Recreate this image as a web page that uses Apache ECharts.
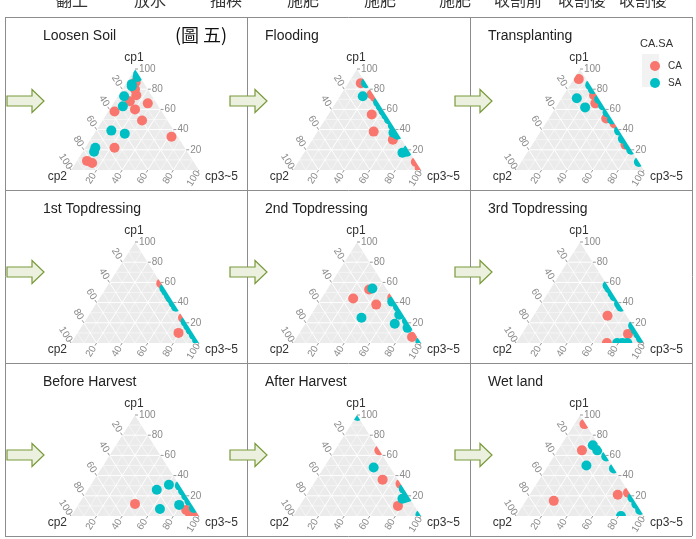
<!DOCTYPE html>
<html>
<head>
<meta charset="utf-8">
<script src="https://cdn.jsdelivr.net/npm/echarts@6/dist/echarts.min.js"></script>
<style>
html, body { margin: 0; padding: 0; background: #fff; }
#main { width: 696px; height: 539px; }
</style>
</head>
<body>
<div id="main"></div>
<script>
// stage names and header words
var stages = ['Loosen Soil', 'Flooding', 'Transplanting', '1st Topdressing', '2nd Topdressing',
    '3rd Topdressing', 'Before Harvest', 'After Harvest', 'Wet land'];
var headerWords = ['翻土', '放水', '插秧', '施肥', '施肥', '施肥', '收割前', '收割後', '收割後'];
var ticks = [20, 40, 60, 80, 100];
var gridSteps = [10, 20, 30, 40, 50, 60, 70, 80, 90];

// [cp1, cp2, cp3~5] compositions (%)
var looseCA = [[87, 6, 7], [80, 10, 10], [74, 12, 14], [68, 20, 12], [66, 7, 27], [58, 37, 5], [60, 20, 20],
    [49, 20, 31], [33, 5, 62], [22, 55, 23], [9, 83, 8], [7, 80, 13]];
var looseSA = [[95, 0, 5], [92, 2, 6], [85, 10, 5], [83, 11, 6], [73, 22, 5], [63, 28, 9], [39, 49, 12],
    [36, 40, 24], [22, 70, 8], [18, 73, 9]];
var floodCA = [[86, 4, 10], [75, 1, 24], [72, 0, 28], [59, 0, 41], [55, 11, 34], [38, 18, 44], [30, 7, 63],
    [8, 0, 92], [2, 0, 98]];
var floodSA = [[86, 0, 14], [73, 9, 18], [67, 0, 33], [63, 0, 37], [58, 0, 42], [54, 0, 46], [50, 0, 50],
    [44, 0, 56], [37, 3, 60], [35, 1, 64], [20, 0, 80], [17, 6, 77], [18, 2, 80]];
var transCA = [[90, 6, 4], [77, 0, 23], [74, 2, 24], [66, 5, 29], [51, 4, 45], [46, 0, 54], [25, 2, 73]];
var transSA = [[84, 0, 16], [80, 0, 20], [71, 17, 12], [62, 15, 23], [70, 0, 30], [64, 0, 36], [57, 0, 43],
    [50, 0, 50], [39, 0, 61], [31, 1, 68], [25, 0, 75], [20, 0, 80], [8, 0, 92]];
var top1CA = [[59, 0, 41], [45, 0, 55], [25, 0, 75], [13, 0, 87], [10, 11, 79]];
var top1SA = [[54, 0, 46], [51, 0, 49], [47, 0, 53], [44, 0, 56], [40, 0, 60], [36, 0, 64], [21, 0, 79],
    [17, 0, 83], [13, 0, 87], [8, 0, 92], [3, 0, 97]];
var top2CA = [[53, 14, 33], [44, 31, 25], [38, 16, 46], [45, 0, 55], [6, 4, 90]];
var top2SA = [[54, 11, 35], [41, 2, 57], [36, 0, 64], [30, 0, 70], [28, 3, 69], [25, 34, 41], [19, 11, 70],
    [22, 0, 78], [15, 3, 82], [1, 0, 99]];
var top3CA = [[27, 15, 58], [9, 8, 83], [0, 29, 71], [3, 0, 97]];
var top3SA = [[57, 0, 43], [54, 0, 46], [49, 0, 51], [46, 0, 54], [39, 0, 61], [36, 0, 64], [17, 0, 83],
    [13, 0, 87], [9, 0, 91], [5, 0, 95], [0, 21, 79], [0, 17, 83], [0, 13, 87]];
var beforeCA = [[12, 44, 44], [6, 7, 87], [4, 4, 92], [2, 6, 92], [1, 3, 96]];
var beforeSA = [[26, 20, 54], [31, 8, 61], [30, 0, 70], [25, 0, 75], [20, 0, 80], [15, 0, 85], [11, 10, 79],
    [7, 27, 66], [8, 0, 92]];
var afterCA = [[65, 0, 35], [36, 12, 52], [32, 0, 68], [21, 0, 79], [10, 13, 77]];
var afterSA = [[99, 0, 1], [48, 13, 39], [27, 0, 73], [22, 0, 78], [19, 0, 81], [17, 6, 77], [18, 3, 79],
    [1, 0, 99]];
var wetCA = [[91, 1, 8], [65, 16, 19], [15, 63, 22], [21, 10, 69], [23, 1, 76]];
var wetSA = [[70, 5, 25], [65, 4, 31], [50, 20, 30], [59, 0, 41], [47, 0, 53], [18, 0, 82], [12, 0, 88],
    [6, 0, 94], [0, 18, 82]];

var caData = [looseCA, floodCA, transCA, top1CA, top2CA, top3CA, beforeCA, afterCA, wetCA];
var saData = [looseSA, floodSA, transSA, top1SA, top2SA, top3SA, beforeSA, afterSA, wetSA];

var RED = '#F8766D', TEAL = '#00BFC4';
var sans = '"Liberation Sans", Arial, sans-serif';
var colX = [25, 247, 470], rowY = [17, 190, 363];

// ternary -> plane (x: 0..1 along base, y: 0..1 up to cp1 apex)
function tern(p) {
    var s = p[0] + p[1] + p[2];
    return [(p[2] + p[0] / 2) / s, p[0] / s];
}

function renderBack(params, api) {
    var kids = [];
    var A = api.coord([0.5, 1]), L = api.coord([0, 0]), R = api.coord([1, 0]);
    kids.push({ type: 'polygon', shape: { points: [L, R, A] }, style: { fill: '#EBEBEB' } });
    gridSteps.forEach(function (v) {
        var w = v % 20 === 0 ? 1 : 0.5;
        var segs = [
            [tern([v, 100 - v, 0]), tern([v, 0, 100 - v])],
            [tern([100 - v, v, 0]), tern([0, v, 100 - v])],
            [tern([100 - v, 0, v]), tern([0, 100 - v, v])]
        ];
        segs.forEach(function (s) {
            var p1 = api.coord(s[0]), p2 = api.coord(s[1]);
            kids.push({ type: 'line', shape: { x1: p1[0], y1: p1[1], x2: p2[0], y2: p2[1] },
                style: { stroke: '#fff', lineWidth: w } });
        });
    });
    return { type: 'group', children: kids };
}

// white bands outside the triangle so edge points look clipped
function renderMask(params, api) {
    var d = 0.075;
    var polys = [
        [[1, 0], [0.5, 1], [0.5 + d, 1], [1 + d, 0]],
        [[0, 0], [0.5, 1], [0.5 - d, 1], [-d, 0]],
        [[-d, 0], [1 + d, 0], [1 + d, -0.08], [-d, -0.08]],
        [[0.44, 1], [0.56, 1], [0.56, 1.08], [0.44, 1.08]]
    ];
    return {
        type: 'group',
        children: polys.map(function (pl) {
            return { type: 'polygon', shape: { points: pl.map(function (q) { return api.coord(q); }) },
                style: { fill: '#fff' } };
        })
    };
}

function renderLabels(params, api) {
    var kids = [];
    var A = api.coord([0.5, 1]), L = api.coord([0, 0]), R = api.coord([1, 0]);
    var ux = A[0] - R[0], uy = A[1] - R[1], n = Math.sqrt(ux * ux + uy * uy);
    ux /= n; uy /= n;                       // up-left direction
    var dx = L[0] - A[0], dy = L[1] - A[1], m = Math.sqrt(dx * dx + dy * dy);
    dx /= m; dy /= m;                       // down-left direction
    var ang = Math.atan2(-uy, -ux);
    var tickStyle = { stroke: '#9a9a9a', lineWidth: 1 };
    var txt = function (t, x, y, rot, align) {
        kids.push({ type: 'text', x: x, y: y, rotation: rot,
            style: { text: t, fill: '#8a8a8a', font: '10px ' + sans, align: align, verticalAlign: 'middle' } });
    };
    ticks.forEach(function (v) {
        var P = api.coord(tern([v, 0, 100 - v]));
        kids.push({ type: 'line', shape: { x1: P[0], y1: P[1], x2: P[0] + 3, y2: P[1] }, style: tickStyle });
        txt(String(v), P[0] + 4, P[1], 0, 'left');
        var Q = api.coord(tern([100 - v, v, 0]));
        kids.push({ type: 'line', shape: { x1: Q[0], y1: Q[1], x2: Q[0] + ux * 3, y2: Q[1] + uy * 3 }, style: tickStyle });
        txt(String(v), Q[0] + ux * 10, Q[1] + uy * 10, -ang, 'center');
        var B = api.coord(tern([0, 100 - v, v]));
        kids.push({ type: 'line', shape: { x1: B[0], y1: B[1], x2: B[0] + dx * 3, y2: B[1] + dy * 3 }, style: tickStyle });
        txt(String(v), B[0] + dx * 10, B[1] + dy * 10, ang, 'center');
    });
    var t = function (s, x, y, align) {
        kids.push({ type: 'text', x: x, y: y,
            style: { text: s, fill: '#333', font: '12px ' + sans, align: align, verticalAlign: 'middle' } });
    };
    t('cp1', A[0] - 1, A[1] - 11, 'center');
    t('cp2', L[0] - 4, L[1] + 7, 'right');
    t('cp3~5', R[0] + 6, R[1] + 7, 'left');
    return { type: 'group', children: kids };
}

var grids = [], xAxes = [], yAxes = [], series = [], graphics = [];

stages.forEach(function (name, i) {
    var r = Math.floor(i / 3), c = i % 3;
    var ox = colX[c], oy = rowY[r];
    grids.push({ left: ox + 46, top: oy + 52, width: 128, height: 101 });
    xAxes.push({ gridIndex: i, type: 'value', min: 0, max: 1, show: false });
    yAxes.push({ gridIndex: i, type: 'value', min: 0, max: 1, show: false });
    series.push({ type: 'custom', xAxisIndex: i, yAxisIndex: i, data: [[0, 0]], z: 1, silent: true,
        renderItem: renderBack });
    series.push({ type: 'scatter', name: 'CA', xAxisIndex: i, yAxisIndex: i, z: 2, clip: false,
        symbolSize: 10, itemStyle: { color: RED, opacity: 1 }, data: caData[i].map(tern) });
    series.push({ type: 'scatter', name: 'SA', xAxisIndex: i, yAxisIndex: i, z: 3, clip: false,
        symbolSize: 10, itemStyle: { color: TEAL, opacity: 1 }, data: saData[i].map(tern) });
    series.push({ type: 'custom', xAxisIndex: i, yAxisIndex: i, data: [[0, 0]], z: 4, silent: true,
        renderItem: renderMask });
    series.push({ type: 'custom', xAxisIndex: i, yAxisIndex: i, data: [[0, 0]], z: 5, silent: true,
        renderItem: renderLabels });

    graphics.push({ type: 'text', x: ox + 18, y: oy + 19, z: 10,
        style: { text: name, fill: '#222', font: '14px ' + sans, verticalAlign: 'middle' } });
});

// panel borders
[5, 247, 470, 692].forEach(function (x) {
    graphics.push({ type: 'line', z: 5, shape: { x1: x + 0.5, y1: 17, x2: x + 0.5, y2: 536 },
        style: { stroke: '#8c8c8c', lineWidth: 1 } });
});
[17, 190, 363, 536].forEach(function (y) {
    graphics.push({ type: 'line', z: 5, shape: { x1: 5, y1: y + 0.5, x2: 692, y2: y + 0.5 },
        style: { stroke: '#8c8c8c', lineWidth: 1 } });
});

// arrows
var arrowX = [7, 230, 455], arrowY = [101, 272, 455];
arrowY.forEach(function (y) {
    arrowX.forEach(function (x) {
        graphics.push({ type: 'polygon', z: 20,
            shape: { points: [[x, y - 5], [x + 25, y - 5], [x + 25, y - 11.5], [x + 37, y],
                [x + 25, y + 11.5], [x + 25, y + 5], [x, y + 5]] },
            style: { fill: '#EBF1DE', stroke: '#7A9A3A', lineWidth: 1.2 } });
    });
});

// header words (cut by the top edge)
var headerX = [72, 150, 226, 303, 380, 455, 518, 582, 643];
headerWords.forEach(function (w, k) {
    graphics.push({ type: 'text', x: headerX[k], y: 0, z: 10,
        style: { text: w, fill: '#333', font: '16px "Noto Sans CJK TC"', align: 'center', verticalAlign: 'middle' } });
});
graphics.push({ type: 'text', x: 201, y: 35, z: 10,
    style: { text: '(圖 五)', fill: '#111', font: '18px "Noto Sans CJK TC"', align: 'center', verticalAlign: 'middle' } });

// legend title and key background
graphics.push({ type: 'text', x: 640, y: 44, z: 10,
    style: { text: 'CA.SA', fill: '#333', font: '11px ' + sans, verticalAlign: 'middle' } });
graphics.push({ type: 'rect', z: 0, shape: { x: 642, y: 54, width: 17, height: 33 }, style: { fill: '#F2F2F2' } });

var chart = echarts.init(document.getElementById('main'));
chart.setOption({
    animation: false,
    grid: grids,
    xAxis: xAxes,
    yAxis: yAxes,
    legend: {
        data: ['CA', 'SA'], orient: 'vertical', left: 645, top: 56, z: 20,
        icon: 'circle', itemWidth: 10, itemHeight: 10, itemGap: 7,
        textStyle: { fontSize: 10, color: '#333', fontFamily: sans, padding: [0, 0, 0, 3] }
    },
    graphic: graphics,
    series: series
});
</script>
</body>
</html>
